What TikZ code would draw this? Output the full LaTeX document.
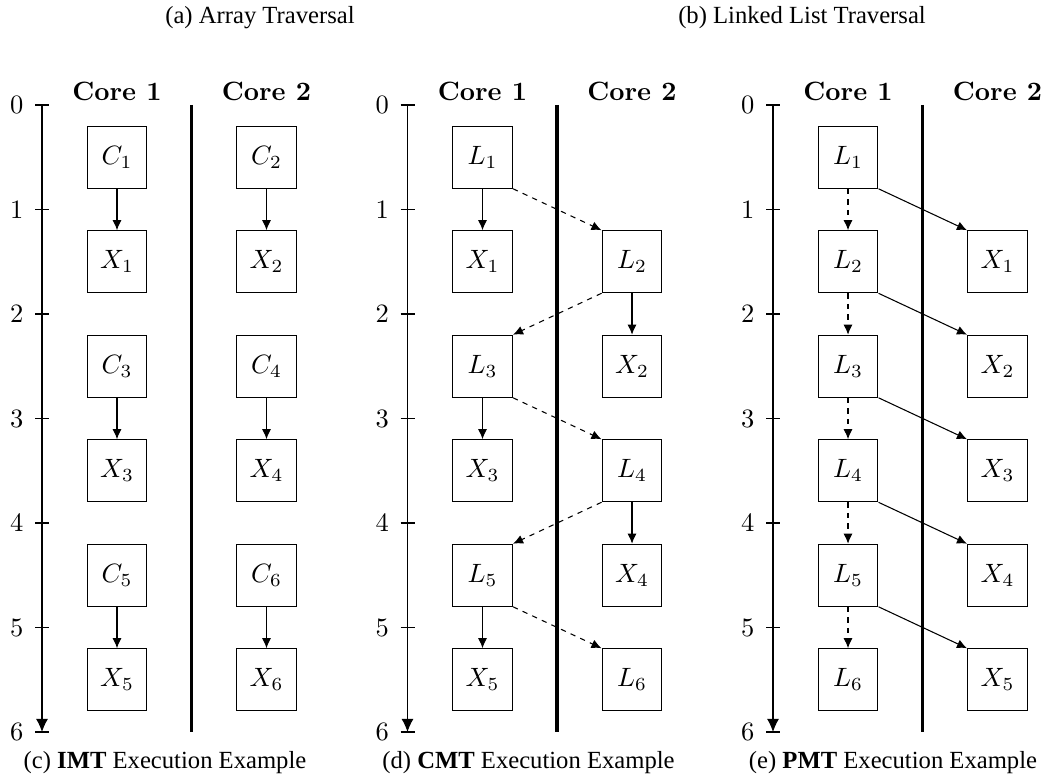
\documentclass[tikz,border=0pt]{standalone}
\usepackage{fontspec}
\usetikzlibrary{arrows.meta}
\newfontfamily\capfont{Liberation Serif}

% time axis, tick labels, core divider and core headings of one panel
\newcommand\paneltimeaxis[1]{%
  \coordinate (#1-top) at (42,105);
  \coordinate (#1-end) at (42,732);
  \draw[timeaxis] (#1-top) -- (#1-end);
  \foreach \t in {0,...,6}{%
    \draw (35,105+104.5*\t) -- (49,105+104.5*\t);
    \node[ticklabel] (#1-tick\t) at (24,105+104.5*\t) {\t};
  }
  \coordinate (#1-divtop) at (191.5,105);
  \coordinate (#1-divbot) at (191.5,732);
  \draw[divider] (#1-divtop) -- (#1-divbot);
  \node[corelabel] (#1-core1) at (117,91) {Core 1};
  \node[corelabel] (#1-core2) at (266.5,91) {Core 2};
}

\begin{document}
\begin{tikzpicture}[x=0.3774pt,y=-0.3774pt,
  box/.style={draw, minimum width=22.6pt, minimum height=23.4pt, inner sep=0pt},
  flow/.style={-{Latex[length=3.8pt,width=3.4pt]}},
  hop/.style={flow, dash pattern=on 2pt off 2pt},
  timeaxis/.style={-{Latex[length=5pt,width=4.6pt]}},
  divider/.style={line width=1.4pt},
  corelabel/.style={font=\bfseries, inner sep=0pt},
  ticklabel/.style={anchor=east, inner sep=0pt},
  caption/.style={font=\capfont\fontsize{9.3}{11}\selectfont, inner sep=0pt}]
\useasboundingbox (0,0) rectangle (1048,781);

% column centres: core 1 at 117, core 2 at 266.5
% row centres (time + 0.5): 157.25, 261.75, 366.25, 470.75, 575.25, 679.75

% ---------------- (c) IMT ----------------
\begin{scope}
  \paneltimeaxis{c}
  \node[box] (c-C1) at (117,157.25) {$C_1$};
  \node[box] (c-X1) at (117,261.75) {$X_1$};
  \node[box] (c-C3) at (117,366.25) {$C_3$};
  \node[box] (c-X3) at (117,470.75) {$X_3$};
  \node[box] (c-C5) at (117,575.25) {$C_5$};
  \node[box] (c-X5) at (117,679.75) {$X_5$};
  \node[box] (c-C2) at (266.5,157.25) {$C_2$};
  \node[box] (c-X2) at (266.5,261.75) {$X_2$};
  \node[box] (c-C4) at (266.5,366.25) {$C_4$};
  \node[box] (c-X4) at (266.5,470.75) {$X_4$};
  \node[box] (c-C6) at (266.5,575.25) {$C_6$};
  \node[box] (c-X6) at (266.5,679.75) {$X_6$};
  \foreach \i in {1,...,6} \draw[flow] (c-C\i) -- (c-X\i);
  \node[caption] (c-cap) at (165,763) {(c) \textbf{IMT} Execution Example};
\end{scope}

% ---------------- (d) CMT ----------------
\begin{scope}[shift={(365.5,0)}]
  \paneltimeaxis{d}
  \node[box] (d-L1) at (117,157.25) {$L_1$};
  \node[box] (d-X1) at (117,261.75) {$X_1$};
  \node[box] (d-L3) at (117,366.25) {$L_3$};
  \node[box] (d-X3) at (117,470.75) {$X_3$};
  \node[box] (d-L5) at (117,575.25) {$L_5$};
  \node[box] (d-X5) at (117,679.75) {$X_5$};
  \node[box] (d-L2) at (266.5,261.75) {$L_2$};
  \node[box] (d-X2) at (266.5,366.25) {$X_2$};
  \node[box] (d-L4) at (266.5,470.75) {$L_4$};
  \node[box] (d-X4) at (266.5,575.25) {$X_4$};
  \node[box] (d-L6) at (266.5,679.75) {$L_6$};
  \foreach \i in {1,...,5} \draw[flow] (d-L\i) -- (d-X\i);
  \draw[hop] (d-L1.south east) -- (d-L2.north west);
  \draw[hop] (d-L2.south west) -- (d-L3.north east);
  \draw[hop] (d-L3.south east) -- (d-L4.north west);
  \draw[hop] (d-L4.south west) -- (d-L5.north east);
  \draw[hop] (d-L5.south east) -- (d-L6.north west);
  \node[caption] (d-cap) at (163,763) {(d) \textbf{CMT} Execution Example};
\end{scope}

% ---------------- (e) PMT ----------------
\begin{scope}[shift={(731,0)}]
  \paneltimeaxis{e}
  \node[box] (e-L1) at (117,157.25) {$L_1$};
  \node[box] (e-L2) at (117,261.75) {$L_2$};
  \node[box] (e-L3) at (117,366.25) {$L_3$};
  \node[box] (e-L4) at (117,470.75) {$L_4$};
  \node[box] (e-L5) at (117,575.25) {$L_5$};
  \node[box] (e-L6) at (117,679.75) {$L_6$};
  \node[box] (e-X1) at (266.5,261.75) {$X_1$};
  \node[box] (e-X2) at (266.5,366.25) {$X_2$};
  \node[box] (e-X3) at (266.5,470.75) {$X_3$};
  \node[box] (e-X4) at (266.5,575.25) {$X_4$};
  \node[box] (e-X5) at (266.5,679.75) {$X_5$};
  \foreach \i [evaluate=\i as \j using int(\i+1)] in {1,...,5} {
    \draw[hop] (e-L\i) -- (e-L\j);
    \draw[flow] (e-L\i.south east) -- (e-X\i.north west);
  }
  \node[caption] (e-cap) at (162,763) {(e) \textbf{PMT} Execution Example};
\end{scope}

% sub-figure titles
\node[caption] (a-cap) at (260,18) {(a) Array Traversal};
\node[caption] (b-cap) at (802,18) {(b) Linked List Traversal};
\end{tikzpicture}
\end{document}
